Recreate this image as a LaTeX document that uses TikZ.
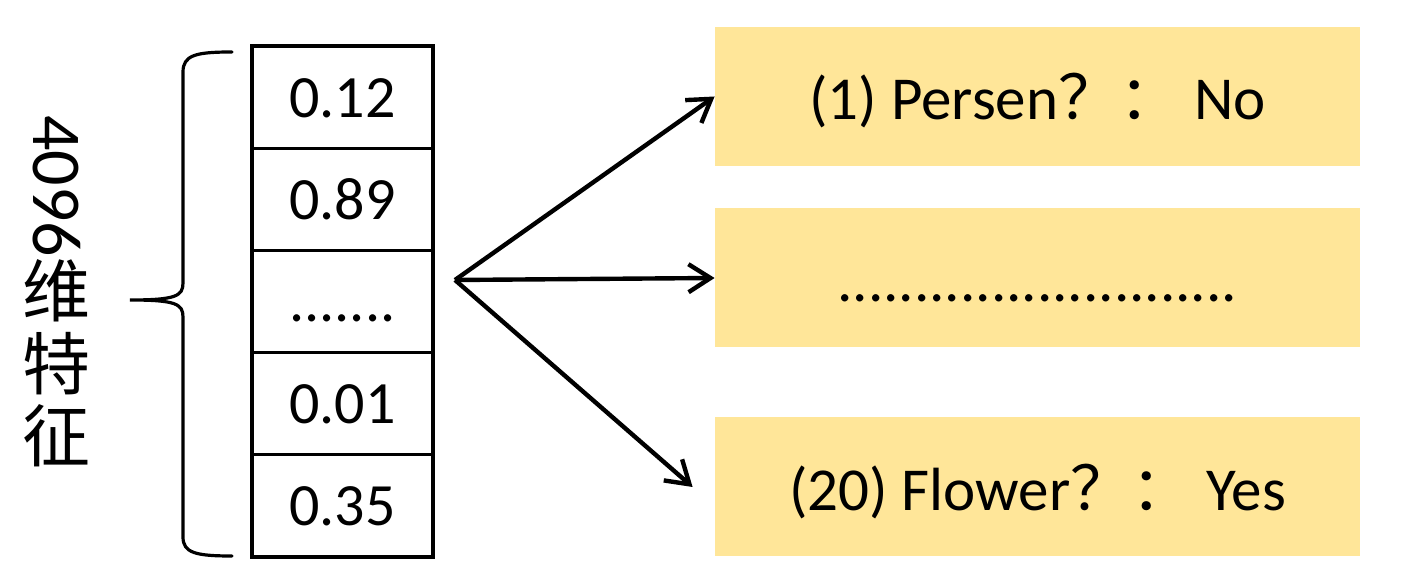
\documentclass[tikz,border=0pt]{standalone}
\usepackage{fontspec}
\setmainfont{Carlito}
\newfontfamily\cjk{Noto Sans CJK SC}
\usetikzlibrary{arrows.meta}
\definecolor{boxyellow}{HTML}{FFE699}
\begin{document}
\begin{tikzpicture}[x=0.5pt,y=-0.5pt,
  cell/.style={draw, line width=1.65pt, minimum width=90.5pt, minimum height=51.1pt, inner sep=0pt,
    font=\fontsize{30pt}{36pt}\selectfont, text height=20pt, text depth=0pt},
  ybox/.style={fill=boxyellow, minimum width=322.5pt, minimum height=69.5pt, inner sep=0pt,
    font=\fontsize{30.5pt}{36pt}\selectfont, text height=31pt, text depth=7.5pt},
  arr/.style={line width=2.2pt, -{Straight Barb[length=11pt, width=14pt]}},
  bracket/.style={line width=1.6pt, line cap=round},
  vlab/.style={inner sep=0pt, font=\fontsize{35pt}{40pt}\selectfont},
]
\useasboundingbox (0,0) rectangle (1420,581);
% feature column
\node[cell] (c1) at (342.5,97.1) {0.12};
\node[cell] (c2) at (342.5,199.3) {0.89};
\node[cell] (c3) at (342.5,301.5) {.......};
\node[cell] (c4) at (342.5,403.7) {0.01};
\node[cell] (c5) at (342.5,505.9) {0.35};
% brace
\draw[bracket] (232,52) .. controls (196,52) and (183,55) .. (183,72) -- (183,283)
  .. controls (183,296) and (176,300) .. (130,300)
  .. controls (176,300) and (183,304) .. (183,317) -- (183,537)
  .. controls (183,553) and (196,556) .. (232,556);
% vertical label
\node[vlab, rotate=-90] (lab) at (57,186) {4096};
\node[vlab, font=\fontsize{34pt}{40pt}\selectfont\cjk] (w1) at (57,291) {维};
\node[vlab, font=\fontsize{34pt}{40pt}\selectfont\cjk] (w2) at (57,364) {特};
\node[vlab, font=\fontsize{34pt}{40pt}\selectfont\cjk] (w3) at (57,436) {征};
% yellow boxes
\node[ybox] (b1) at (1037.5,96.5) {(1) Persen{\cjk ？：} No};
\node[ybox] (b2) at (1037.5,278) {..........................};
\node[ybox] (b3) at (1037.5,487) {(20) Flower{\cjk ？：} Yes};
% arrows
\coordinate (hub) at (455,280);
\draw[arr] (hub) -- (b1.west);
\draw[arr] (hub) -- (b2.west);
\draw[arr] (hub) -- ([xshift=-11pt]b3.west);
\end{tikzpicture}
\end{document}
